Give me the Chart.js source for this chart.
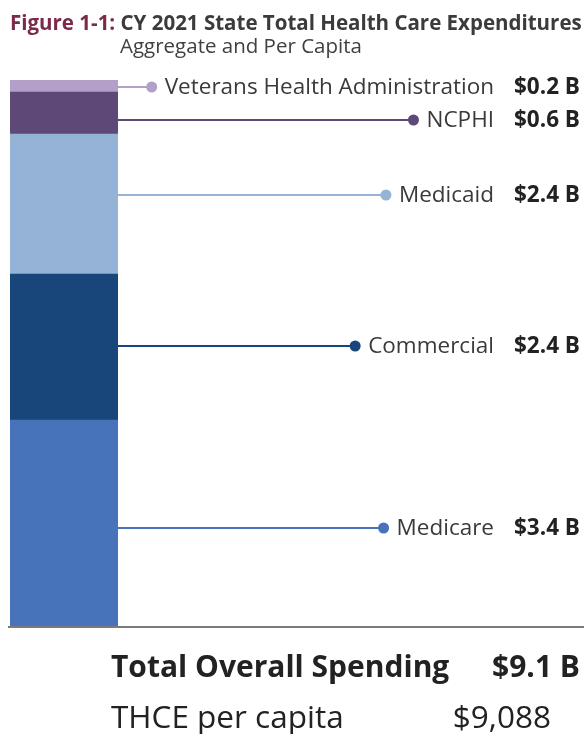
<!DOCTYPE html>
<html>
<head>
<meta charset="utf-8">
<script src="https://cdn.jsdelivr.net/npm/chart.js@4"></script>
<style>
  html, body { margin: 0; padding: 0; background: #fff; }
  #wrap { position: relative; width: 584px; height: 734px; overflow: hidden; font-family: "Open Sans", Lato, sans-serif; }
  #chart { position: absolute; left: 0; top: 0; }
  .t { position: absolute; white-space: nowrap; line-height: 1; }
  #title { left: 10px; top: 12px; font-size: 20.5px; font-weight: 700; color: #3b3b3b; }
  #title span { color: #7b2a4a; }
  #sub { left: 120px; top: 35px; font-size: 20.5px; color: #404040; }
  #totLabel { left: 111px; top: 651px; font-size: 30px; font-weight: 700; color: #222; }
  #totValue { right: 4px; top: 651px; font-size: 30px; font-weight: 700; color: #222; }
  #capLabel { left: 111px; top: 700px; font-size: 31.5px; color: #222; }
  #capValue { right: 33px; top: 700px; font-size: 31.5px; color: #222; }
</style>
</head>
<body>
<div id="wrap">
  <canvas id="chart" width="584" height="734"></canvas>
  <div class="t" id="title"><span>Figure 1-1:</span> CY 2021 State Total Health Care Expenditures</div>
  <div class="t" id="sub">Aggregate and Per Capita</div>
  <div class="t" id="totLabel">Total Overall Spending</div>
  <div class="t" id="totValue"></div>
  <div class="t" id="capLabel">THCE per capita</div>
  <div class="t" id="capValue"></div>
</div>
<script>
// payers, bottom of the stack first (billions of dollars)
const payers = ['Medicare', 'Commercial', 'Medicaid', 'NCPHI', 'Veterans Health Administration'];
const spending = [3.43, 2.43, 2.33, 0.70, 0.20];
const spendingLabels = ['$3.4 B', '$2.4 B', '$2.4 B', '$0.6 B', '$0.2 B'];
const colors = ['#4673b9', '#18467a', '#95b3d7', '#5e4878', '#b2a0c9'];
const totalLabel = '$9.1 B';
const perCapitaLabel = '$9,088';

// small vertical nudges of each leader line from the segment middle (px)
const labelShift = [5, -1, -9, 7, 1];
const labelRight = 494;
const valueLeft = 514;

document.getElementById('totValue').textContent = totalLabel;
document.getElementById('capValue').textContent = perCapitaLabel;

const leaderLines = {
    id: 'leaderLines',
    afterDatasetsDraw(chart) {
        const ctx = chart.ctx;
        const area = chart.chartArea;
        ctx.save();

        // baseline running under the bar and across the page
        ctx.strokeStyle = '#7a7a7a';
        ctx.lineWidth = 2;
        ctx.beginPath();
        ctx.moveTo(area.left - 2, area.bottom + 1);
        ctx.lineTo(chart.width, area.bottom + 1);
        ctx.stroke();

        chart.data.datasets.forEach((ds, i) => {
            const bar = chart.getDatasetMeta(i).data[0];
            const y = Math.round((bar.y + bar.base) / 2 + labelShift[i]);
            const x0 = bar.x + bar.width / 2;

            ctx.font = '22.5px "Open Sans"';
            const w = ctx.measureText(ds.label).width;
            const dotX = labelRight - w - 13;

            ctx.strokeStyle = ds.backgroundColor;
            ctx.lineWidth = 2;
            ctx.beginPath();
            ctx.moveTo(x0, y);
            ctx.lineTo(dotX, y);
            ctx.stroke();

            ctx.fillStyle = ds.backgroundColor;
            ctx.beginPath();
            ctx.arc(dotX, y, 5.5, 0, Math.PI * 2);
            ctx.fill();

            ctx.textBaseline = 'middle';
            ctx.fillStyle = '#3a3a3a';
            ctx.textAlign = 'right';
            ctx.fillText(ds.label, labelRight, y + 1);

            ctx.font = 'bold 22.5px "Open Sans"';
            ctx.fillStyle = '#222';
            ctx.textAlign = 'left';
            ctx.fillText(spendingLabels[i], valueLeft, y + 1);
        });
        ctx.restore();
    }
};

const datasets = payers.map((p, i) => ({
    label: p,
    data: [spending[i]],
    backgroundColor: colors[i],
    borderWidth: 0,
    barPercentage: 1,
    categoryPercentage: 1
}));

new Chart(document.getElementById('chart').getContext('2d'), {
    type: 'bar',
    data: { labels: ['CY 2021'], datasets: datasets },
    options: {
        responsive: false,
        animation: false,
        layout: { padding: { left: 10, right: 466, top: 80, bottom: 108 } },
        plugins: { legend: { display: false }, tooltip: { enabled: false } },
        scales: {
            x: { stacked: true, display: false },
            y: {
                stacked: true,
                display: false,
                min: 0,
                max: spending.reduce((a, b) => a + b, 0)
            }
        }
    },
    plugins: [leaderLines]
});
</script>
</body>
</html>
